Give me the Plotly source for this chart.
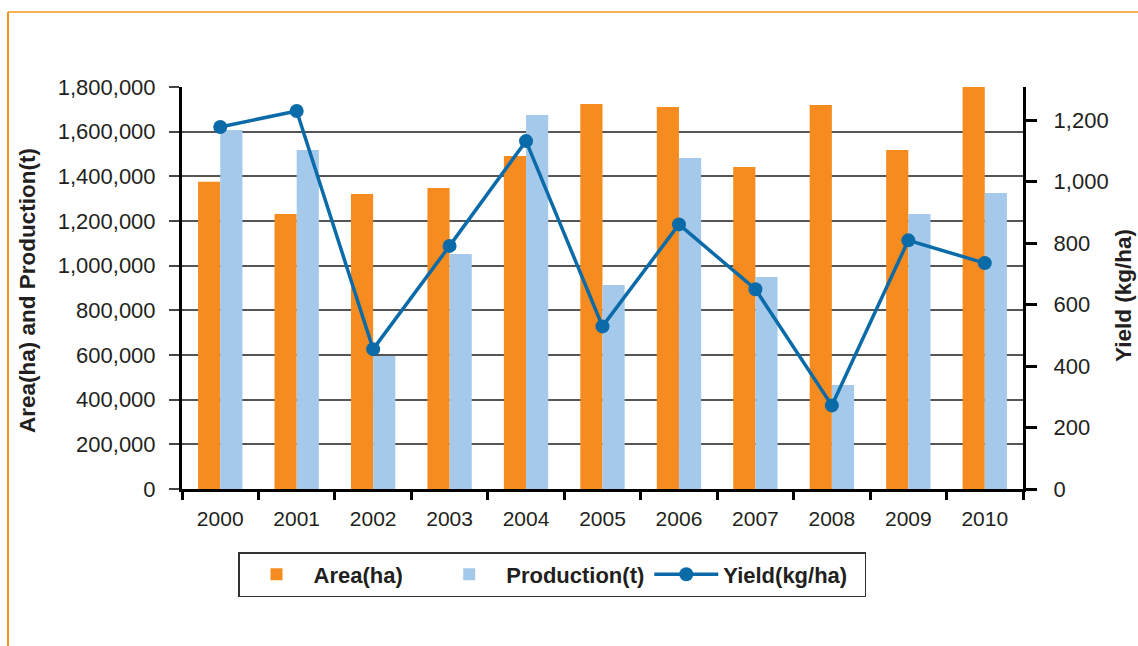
import plotly.graph_objects as go

years = ["2000", "2001", "2002", "2003", "2004", "2005", "2006", "2007", "2008", "2009", "2010"]
area_ha = [1376000, 1231000, 1321000, 1348000, 1491000, 1724000, 1710000, 1442000, 1719000, 1518000, 1800000]
production_t = [1607000, 1518000, 595000, 1052000, 1675000, 913000, 1482000, 949000, 466000, 1231000, 1325000]
yield_kg_ha = [1178, 1230, 455, 791, 1132, 529, 861, 650, 272, 809, 735]

ORANGE = "#F68B1F"
BLUE = "#A4C9EB"
LINE = "#0A6BA8"
TXT = "#231F20"
FONT = "Liberation Sans, Arial, sans-serif"
NB = "\u00a0"

fig = go.Figure()
fig.add_trace(go.Bar(x=years, y=area_ha, name="Area(ha)" + NB * 4, marker=dict(color=ORANGE, line=dict(width=0))))
fig.add_trace(go.Bar(x=years, y=production_t, name="Production(t)", marker=dict(color=BLUE, line=dict(width=0))))
fig.add_trace(go.Scatter(x=years, y=yield_kg_ha, name="Yield(kg/ha)" + NB * 2, yaxis="y2", mode="lines+markers",
                         line=dict(color=LINE, width=3.5), marker=dict(color=LINE, size=14)))

W, H = 1138, 646
L, R, T, B = 182, 1023, 87, 489

def px(x):
    return (x - L) / (R - L)

def py(y):
    return (B - y) / (B - T)

fig.update_layout(
    width=W, height=H,
    margin=dict(l=L, r=W - R, t=T, b=H - B, autoexpand=False),
    paper_bgcolor="white", plot_bgcolor="white",
    font=dict(family=FONT, size=22, color=TXT),
    barmode="group", bargap=0.42, bargroupgap=0,
    showlegend=True,
    legend=dict(orientation="h", x=px(238), y=py(552), xanchor="left", yanchor="top",
                bordercolor="#333333", borderwidth=1.5, bgcolor="white",
                font=dict(family=FONT, size=22, color=TXT, weight="bold"),
                itemwidth=64, traceorder="normal"),
    xaxis=dict(type="category", range=[-0.5, len(years) - 0.5], showline=True, linecolor="black", linewidth=3,
               ticks="outside", tickson="boundaries", ticklen=8, tickwidth=3, tickcolor="black",
               showgrid=False, tickfont=dict(size=21, color=TXT), ticklabelstandoff=9),
    yaxis=dict(range=[0, 1800000], dtick=200000, tickformat=",", showline=True, linecolor="black",
               linewidth=3, ticks="outside", ticklen=10, tickwidth=1.5, tickcolor="#444444",
               showgrid=True, gridcolor="#555555", gridwidth=1.5, zeroline=False,
               tickfont=dict(size=22, color=TXT), ticklabelstandoff=9),
    yaxis2=dict(range=[0, 1308], dtick=200, tickformat=",", overlaying="y", side="right",
                showline=True, linecolor="black", linewidth=3, ticks="outside", ticklen=11,
                tickwidth=3, tickcolor="black", showgrid=False, zeroline=False,
                tickprefix=NB * 2,
                tickfont=dict(size=22, color=TXT)),
    annotations=[
        dict(text="<b>Area(ha) and Production(t)</b>", xref="paper", yref="paper",
             x=px(27), y=py(291), textangle=-90, showarrow=False, xanchor="center", yanchor="middle",
             font=dict(family=FONT, size=22.5, color=TXT)),
        dict(text="<b>Yield (kg/ha)</b>", xref="paper", yref="paper",
             x=px(1123), y=py(296), textangle=-90, showarrow=False, xanchor="center", yanchor="middle",
             font=dict(family=FONT, size=22.5, color=TXT)),
    ],
    shapes=[
        dict(type="line", xref="paper", yref="paper", x0=px(8), x1=px(1140), y0=py(12), y1=py(12),
             line=dict(color="#F7941D", width=1.5)),
        dict(type="line", xref="paper", yref="paper", x0=px(8), x1=px(8), y0=py(12), y1=py(648),
             line=dict(color="#F7941D", width=2)),
    ],
)

fig.write_html("out.html", config={"displayModeBar": False},
               post_script="document.body.style.margin='0px';document.body.style.overflow='hidden';")
